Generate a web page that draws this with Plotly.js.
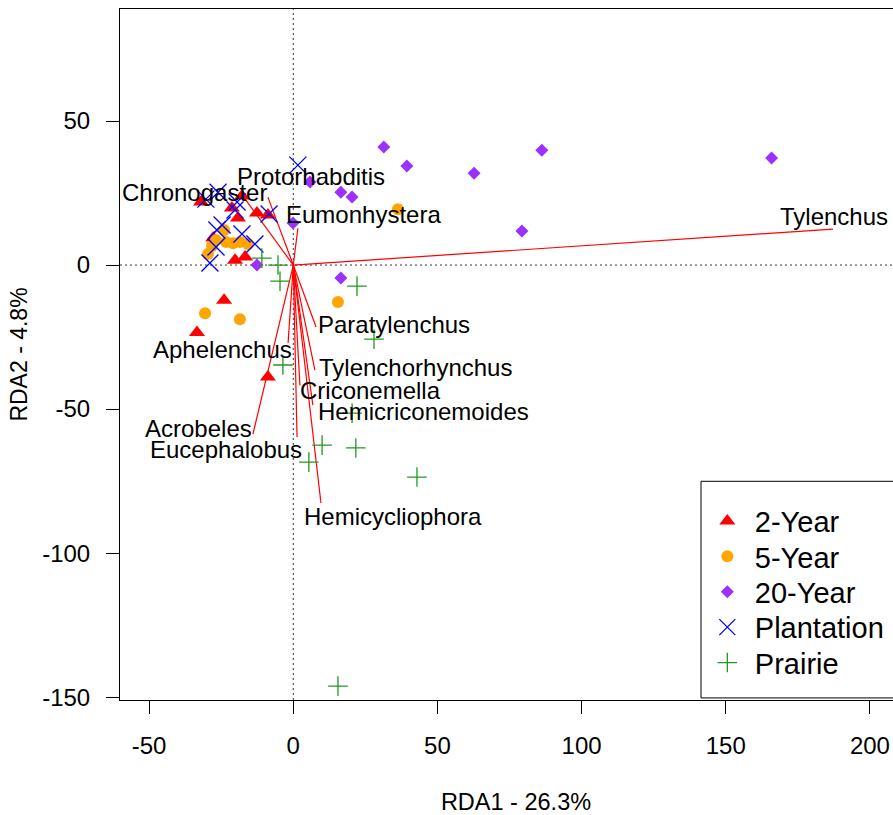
<!DOCTYPE html>
<html>
<head>
<meta charset="utf-8">
<script src="https://cdn.plot.ly/plotly-3.0.1.min.js"></script>
<style>
html,body{margin:0;padding:0;overflow:hidden;background:#fff}
#plot{width:930px;height:815px}
</style>
</head>
<body>
<div id="plot"></div>
<script>
// ---- site scores ----
const groupNames = ["2-Year", "5-Year", "20-Year", "Plantation", "Prairie"];

const year2X = [-32.0, -17.8, -21.3, -19.2, -12.6, -8.8, -27.8, -20.2, -16.7, -24.0, -33.4, -8.8];
const year2Y = [21.9, 24.0, 19.8, 16.3, 18.1, 17.4, 9.4, 1.7, 2.8, -12.2, -23.4, -38.9];

const year5X = [-29.6, -28.2, -26.8, -24.0, -23.3, -20.9, -18.5, -15.7, -30.6, -18.5, 15.5, 36.3];
const year5Y = [3.8, 6.6, 8.7, 12.2, 8.0, 7.6, 8.0, 7.3, -16.7, -18.8, -12.8, 19.4];

const year20X = [31.4, 39.4, 86.2, 62.7, 5.8, 16.5, 20.4, -0.1, 79.3, 16.5, 165.9, -12.6];
const year20Y = [41.0, 34.4, 39.9, 31.9, 28.8, 25.3, 23.6, 14.6, 11.8, -4.5, 37.2, 0.0];

const plantX = [1.6, -26.1, -30.3, -19.5, -20.2, -8.4, -24.7, -26.5, -17.8, -26.8, -13.3, -28.9];
const plantY = [34.7, 25.3, 22.9, 21.9, 19.1, 17.7, 13.9, 12.2, 10.8, 6.3, 7.3, 0.7];

const prairieX = [-10.9, -5.3, -4.6, 22.1, 28.0, -3.6, 20.4, 10.0, 21.7, 5.4, 42.9, 15.5];
const prairieY = [2.4, 0.0, -5.6, -7.3, -25.7, -34.7, -51.4, -62.5, -63.5, -68.4, -73.6, -146.2];

// ---- species scores ----
const speciesNames = ["Tylenchus", "Chronogaster", "Protorhabditis", "Eumonhystera", "Paratylenchus",
  "Aphelenchus", "Tylenchorhynchus", "Criconemella", "Hemicriconemoides", "Acrobeles",
  "Eucephalobus", "Hemicycliophora"];
const speciesX = [187.2, -16.7, -8.8, 1.6, 7.9, -1.8, 7.5, 2.3, 6.8, -14.0, 1.3, 9.6];
const speciesY = [12.5, 22.9, 23.6, 12.8, -21.5, -27.1, -36.5, -41.7, -48.6, -58.7, -59.7, -82.6];
const labelX = [187.4, -34.2, 6.3, 24.3, 35.1, -24.5, 42.4, 26.8, 45.0, -32.9, -23.3, 34.6];
const labelY = [17.0, 25.3, 30.6, 17.4, -20.8, -29.2, -35.4, -43.4, -50.7, -56.6, -64.2, -87.2];

// ---- axes ----
const xTicks = [-50, 0, 50, 100, 150, 200];
const yTicks = [-150, -100, -50, 0, 50];
const xTitle = "RDA1 - 26.3%";
const yTitle = "RDA2 - 4.8%";

const FONT = "Liberation Sans, Arial, Helvetica, sans-serif";

// species vectors from origin
const vecX = [], vecY = [];
speciesX.forEach((v, i) => { vecX.push(0, v, null); vecY.push(0, speciesY[i], null); });

const traces = [
  {x: vecX, y: vecY, mode: "lines", line: {color: "#ff0000", width: 1.2}, showlegend: false, hoverinfo: "skip"},
  {x: year2X, y: year2Y, name: groupNames[0], mode: "markers",
   marker: {symbol: "triangle-up", size: 14, color: "#ff0000"}},
  {x: year5X, y: year5Y, name: groupNames[1], mode: "markers",
   marker: {symbol: "circle", size: 12, color: "#ffa500"}},
  {x: year20X, y: year20Y, name: groupNames[2], mode: "markers",
   marker: {symbol: "diamond", size: 10, color: "#9b30ff"}},
  {x: plantX, y: plantY, name: groupNames[3], mode: "markers",
   marker: {symbol: "x-thin-open", size: 17, color: "#0000ff", line: {color: "#0000ff", width: 1.3}}},
  {x: prairieX, y: prairieY, name: groupNames[4], mode: "markers",
   marker: {symbol: "cross-thin-open", size: 14, color: "#229922", line: {color: "#229922", width: 1.3}}}
];

const annotations = speciesNames.map((s, i) => ({
  x: labelX[i], y: labelY[i], xref: "x", yref: "y", text: s, showarrow: false,
  xanchor: "center", yanchor: "middle", font: {family: FONT, size: 24, color: "#000"}
}));

const layout = {
  width: 930, height: 815,
  margin: {l: 120, r: 18, t: 9, b: 115},
  paper_bgcolor: "#fff", plot_bgcolor: "#fff",
  font: {family: FONT, size: 24, color: "#000"},
  showlegend: true,
  xaxis: {
    range: [-60.1, 214.6], tickvals: xTicks, ticktext: xTicks.map(String),
    ticks: "outside", ticklen: 13, tickwidth: 1, tickcolor: "#000",
    showline: true, linecolor: "#000", linewidth: 1, mirror: true,
    showgrid: false, zeroline: false, ticklabelstandoff: 11,
    tickfont: {family: FONT, size: 24, color: "#000"},
    title: {text: xTitle, standoff: 42, font: {family: FONT, size: 23.5, color: "#000"}}
  },
  yaxis: {
    range: [-151.0, 88.9], tickvals: yTicks, ticktext: yTicks.map(String),
    ticks: "outside", ticklen: 13, tickwidth: 1, tickcolor: "#000",
    showline: true, linecolor: "#000", linewidth: 1, mirror: true,
    showgrid: false, zeroline: false, ticklabelstandoff: 11,
    tickfont: {family: FONT, size: 24, color: "#000"},
    title: {text: yTitle, standoff: 8, font: {family: FONT, size: 23, color: "#000"}}
  },
  shapes: [
    {type: "line", xref: "x", yref: "paper", x0: 0, x1: 0, y0: 0, y1: 1,
     line: {color: "#333", width: 1, dash: "2px,3px"}, layer: "below"},
    {type: "line", xref: "paper", yref: "y", x0: 0, x1: 1, y0: 0, y1: 0,
     line: {color: "#333", width: 1, dash: "2px,3px"}, layer: "below"},
    {type: "rect", xref: "paper", yref: "paper", x0: 0.7336, x1: 1.05, y0: 0.003, y1: 0.3165,
     fillcolor: "#fff", line: {color: "#000", width: 1}, layer: "above"}
  ],
  legend: {
    x: 0.7321, y: 0.2958, xanchor: "left", yanchor: "top",
    bgcolor: "rgba(0,0,0,0)", borderwidth: 0, itemwidth: 45,
    font: {family: FONT, size: 29, color: "#000"}
  },
  annotations: annotations
};

Plotly.newPlot("plot", traces, layout, {displayModeBar: false, staticPlot: true}).then(gd => {
  // tighten legend row spacing to match the reference (R legend y.intersp)
  const items = gd.querySelectorAll(".legend .traces");
  if (!items.length) return;
  const re = /translate\(\s*([-\d.eE]+)[ ,]+([-\d.eE]+)\s*\)/;
  const m0 = re.exec(items[0].getAttribute("transform") || "");
  if (!m0) return;
  const x0 = parseFloat(m0[1]), y0 = parseFloat(m0[2]);
  const rowGap = 35.4;
  items.forEach((el, i) => {
    const m = re.exec(el.getAttribute("transform") || "");
    const xi = m ? parseFloat(m[1]) : x0;
    el.setAttribute("transform", "translate(" + xi + "," + (y0 + i * rowGap) + ")");
  });
});
</script>
</body>
</html>
